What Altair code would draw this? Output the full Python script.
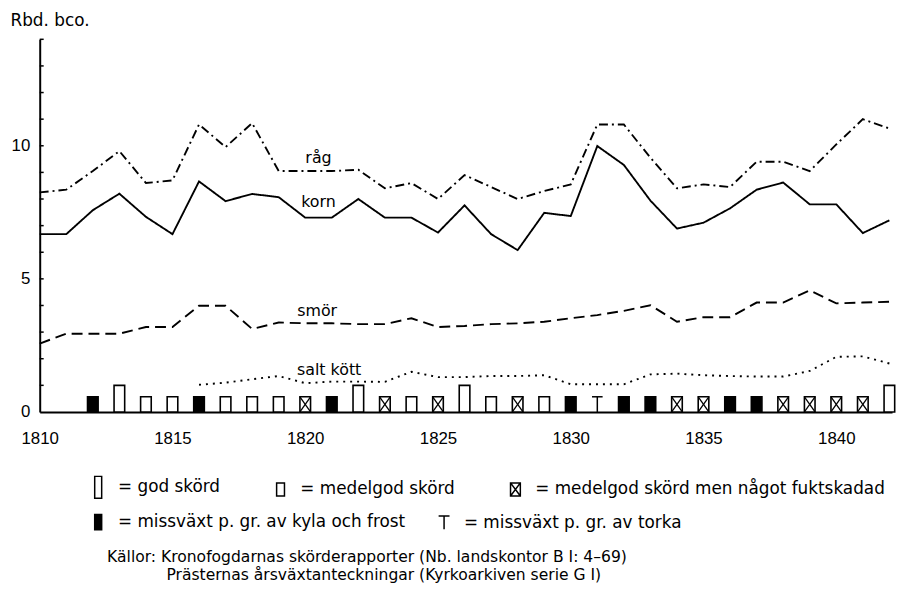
import altair as alt
import pandas as pd

# ---------------- data ----------------
years = list(range(1810, 1843))
rag = [8.25, 8.35, 9.05, 9.8, 8.6, 8.7, 10.8, 9.95, 10.85, 9.05, 9.05, 9.05, 9.1,
       8.4, 8.6, 8.0, 8.9, 8.45, 8.0, 8.3, 8.55, 10.8, 10.8, 9.55, 8.4, 8.55, 8.45,
       9.4, 9.4, 9.05, 10.05, 11.0, 10.65]
korn = [6.68, 6.68, 7.58, 8.2, 7.33, 6.68, 8.66, 7.92, 8.19, 8.07, 7.3, 7.3, 8.0,
        7.3, 7.3, 6.74, 7.76, 6.68, 6.08, 7.48, 7.36, 9.99, 9.28, 7.94, 6.89, 7.11,
        7.65, 8.35, 8.62, 7.8, 7.8, 6.72, 7.2]
smor = [2.57, 2.94, 2.94, 2.94, 3.19, 3.19, 3.99, 3.99, 3.12, 3.36, 3.33, 3.33, 3.3,
        3.3, 3.52, 3.19, 3.23, 3.3, 3.33, 3.39, 3.52, 3.64, 3.8, 4.01, 3.39, 3.56,
        3.56, 4.11, 4.11, 4.57, 4.08, 4.11, 4.14]
salt_years = list(range(1816, 1843))
salt = [1.02, 1.1, 1.23, 1.35, 1.08, 1.14, 1.14, 1.13, 1.51, 1.31, 1.31, 1.35, 1.35,
        1.38, 1.04, 1.04, 1.04, 1.41, 1.44, 1.38, 1.35, 1.33, 1.33, 1.54, 2.07, 2.09,
        1.82]

series_names = ["råg", "korn", "smör", "salt kött"]

cat_names = ["god skörd", "medelgod skörd", "medelgod skörd men något fuktskadad",
             "missväxt p. gr. av kyla och frost", "missväxt p. gr. av torka"]
harvest_years = list(range(1812, 1843))
harvest_codes = ["K", "G", "M", "M", "K", "M", "M", "M", "F", "K", "G", "F", "M", "F",
                 "G", "M", "F", "M", "K", "T", "K", "K", "F", "F", "K", "K", "F", "F",
                 "F", "F", "G"]
code_to_cat = {"G": cat_names[0], "M": cat_names[1], "F": cat_names[2],
               "K": cat_names[3], "T": cat_names[4]}

label_text = ["råg", "korn", "smör", "salt kött"]
label_year = [1820.5, 1820.5, 1820.45, 1820.9]
label_value = [9.55, 7.88, 3.79, 1.56]

y_tick_values = list(range(1, 15))
x_label_values = [1810, 1815, 1820, 1825, 1830, 1835, 1840]
y_label_values = [0, 5, 10]

source_lines = [
    "Källor: Kronofogdarnas skörderapporter (Nb. landskontor B I: 4–69)",
    "\u200b" + "\u00a0" * 12 + "Prästernas årsväxtanteckningar (Kyrkoarkiven serie G I)",
]

# ---------------- tables ----------------
line_rows = []
for name, vals, yrs in [("råg", rag, years), ("korn", korn, years),
                        ("smör", smor, years), ("salt kött", salt, salt_years)]:
    for yv, v in zip(yrs, vals):
        line_rows.append({"year": yv, "value": v, "serie": name})
lines_df = pd.DataFrame(line_rows)

harv_df = pd.DataFrame({"year": harvest_years,
                        "cat": [code_to_cat[c] for c in harvest_codes]})
labels_df = pd.DataFrame({"text": label_text, "year": label_year, "value": label_value})
ticks_df = pd.DataFrame({"v": y_tick_values})

FONT = "DejaVu Sans"
NUMFONT = "Liberation Sans"

xs = alt.Scale(domain=[1810, 1842.1], nice=False, zero=False)
ys = alt.Scale(domain=[0, 14], nice=False)
xaxis = alt.Axis(values=x_label_values, format="d", title=None, ticks=False, tickSize=0,
                 labelPadding=19, labelFontSize=17, labelFont=NUMFONT, grid=False,
                 labelFlush=False)
yaxis = alt.Axis(values=y_label_values, title="Rbd. bco.", ticks=False, tickSize=0,
                 labelPadding=10, labelFontSize=17, labelFont=NUMFONT, grid=False,
                 labelFlush=False,
                 titleAngle=0, titleX=-30, titleY=-19, titleAlign="left",
                 titleBaseline="middle", titleFontSize=17, titleFontWeight="normal",
                 titleFont=FONT)


def X(f):
    return alt.X(f, scale=xs, axis=xaxis)


def Y(f):
    return alt.Y(f, scale=ys, axis=yaxis)


harv_base = alt.Chart(harv_df).transform_calculate(
    xl="datum.year - 0.2",
    xr="datum.year + 0.2",
    z="0",
    h="datum.cat == 'god skörd' ? 1.0 : 0.57",
)

bars = harv_base.transform_filter(
    alt.datum.cat != cat_names[4]
).mark_rect(stroke="black", strokeWidth=1.6).encode(
    x=X("xl:Q"), x2="xr:Q", y=Y("h:Q"), y2="z:Q",
    color=alt.Color("cat:N", scale=alt.Scale(
        domain=cat_names, range=["white", "white", "white", "black", "white"]), legend=None),
)

fukt = harv_base.transform_filter(alt.datum.cat == cat_names[2])
diag1 = fukt.mark_rule(color="black", strokeWidth=1.3).encode(
    x=X("xl:Q"), x2="xr:Q", y=Y("z:Q"), y2="h:Q")
diag2 = fukt.mark_rule(color="black", strokeWidth=1.3).encode(
    x=X("xr:Q"), x2="xl:Q", y=Y("z:Q"), y2="h:Q")

torka = harv_base.transform_filter(alt.datum.cat == cat_names[4])
t_top = torka.mark_rule(color="black", strokeWidth=1.5).encode(
    x=X("xl:Q"), x2="xr:Q", y=Y("h:Q"))
t_stem = torka.mark_rule(color="black", strokeWidth=1.5).encode(
    x=X("year:Q"), y=Y("z:Q"), y2="h:Q")

shape_paths = [
    "M-0.32,-1H0.32V1H-0.32Z",
    "M-0.36,-0.6H0.36V0.6H-0.36Z",
    "M-0.45,-0.6H0.45V0.6H-0.45ZM-0.45,-0.6L0.45,0.6M0.45,-0.6L-0.45,0.6",
    "M-0.32,-0.7H0.32V0.7H-0.32Z",
    "M-0.5,-0.6H0.5M0,-0.6V0.6",
]
fills = ["white", "white", "white", "black", "white"]


def make_legend(x, y, pad):
    return alt.Legend(
        orient="none", legendX=x, legendY=y, direction="horizontal",
        columnPadding=pad, title=None,
        symbolSize=484, symbolStrokeWidth=1.5,
        symbolOpacity=1, labelFont=FONT, labelFontSize=17, labelColor="black",
        labelLimit=600, labelOffset=8, labelExpr="'= ' + datum.label",
    )


def legend_layer(idx, leg):
    dom = [cat_names[i] for i in idx]
    return harv_base.transform_filter("false").mark_point(
        strokeWidth=1.5, opacity=1
    ).encode(
        x=X("year:Q"), y=Y("h:Q"),
        shape=alt.Shape("cat:N", scale=alt.Scale(
            domain=dom, range=[shape_paths[i] for i in idx]), legend=leg),
        fill=alt.Fill("cat:N", scale=alt.Scale(
            domain=dom, range=[fills[i] for i in idx]), legend=leg),
        stroke=alt.Stroke("cat:N", scale=alt.Scale(
            domain=dom, range=["black"] * len(idx)), legend=leg),
    )


legend_row1 = legend_layer([0, 1, 2], make_legend(47, 440, 48))
legend_row2 = legend_layer([3, 4], make_legend(47, 475, 26))

lines = alt.Chart(lines_df).mark_line(color="black", strokeWidth=1.9).encode(
    x=X("year:Q"), y=Y("value:Q"),
    detail="serie:N",
    strokeDash=alt.StrokeDash(
        "serie:N",
        scale=alt.Scale(domain=series_names, range=[[9, 4, 2, 4], [1, 0], [11, 6], [2, 5]]),
        legend=None,
    ),
)

labels = alt.Chart(labels_df).mark_text(font=FONT, fontSize=16, color="black").encode(
    x=X("year:Q"), y=Y("value:Q"), text="text:N")

inner_ticks = alt.Chart(ticks_df).mark_rule(color="black", strokeWidth=1.5).encode(
    y=Y("v:Q"), x=alt.value(0), x2=alt.value(4))

chart = alt.layer(
    lines, labels, bars, diag1, diag2, t_top, t_stem, inner_ticks, legend_row1, legend_row2
).resolve_scale(fill="independent", shape="independent", stroke="independent").properties(
    width=860, height=376,
    autosize=alt.AutoSizeParams(type="none"),
    padding={"left": 32, "top": 29, "right": 4, "bottom": 170},
    title=alt.TitleParams(text=source_lines, orient="bottom", anchor="start", frame="group",
                          dx=68, offset=17, font=FONT, fontSize=15.7, fontWeight="normal",
                          color="black", lineHeight=19),
).configure_view(stroke=None).configure_axis(
    domainColor="black", domainWidth=2, labelColor="black",
    titleColor="black",
)

chart.save("out.html", embed_options={"renderer": "svg", "actions": False})
